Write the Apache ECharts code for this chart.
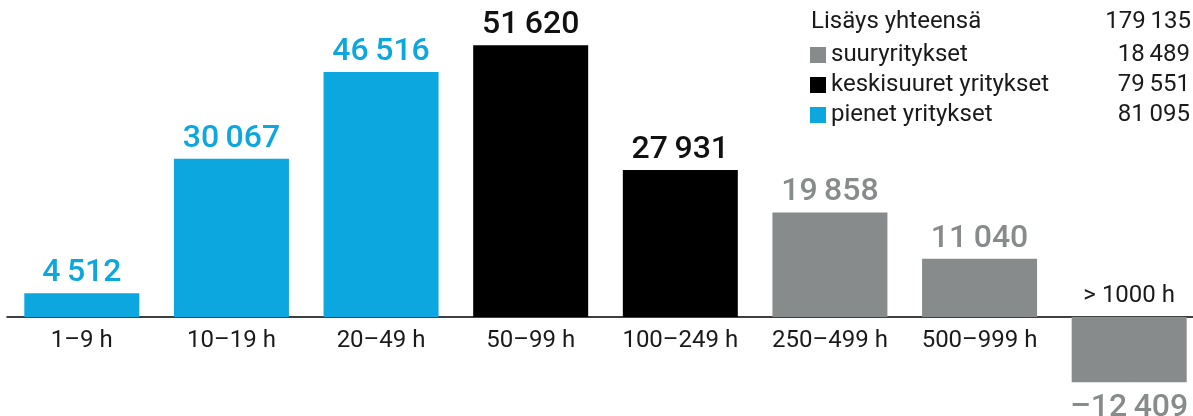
<!DOCTYPE html>
<html>
<head>
<meta charset="utf-8">
<script src="https://cdn.jsdelivr.net/npm/echarts@6/dist/echarts.min.js"></script>
<style>
  html, body { margin: 0; padding: 0; background: #fff; }
  #chart { width: 1193px; height: 416px; }
</style>
</head>
<body>
<div id="chart"></div>
<script>
// luokat ja arvot
const categories = ['1–9 h', '10–19 h', '20–49 h', '50–99 h', '100–249 h', '250–499 h', '500–999 h', '> 1000 h'];
const pienet = [4512, 30067, 46516, null, null, null, null, null];
const keskisuuret = [null, null, null, 51620, 27931, null, null, null];
const suuret = [null, null, null, null, null, 19858, 11040, -12409];

const totalLabel = 'Lisäys yhteensä';
const totalValue = 179135;
const legendNames = ['suuryritykset', 'keskisuuret yritykset', 'pienet yritykset'];
const legendValues = [18489, 79551, 81095];

const BLUE = '#0ba7de';
const BLACK = '#000000';
const GRAY = '#888b8b';
const FONT = 'Roboto';
const TEXT = '#1a1a1a';

const fmt = (v) => {
  const s = Math.abs(v).toString().replace(/\B(?=(\d{3})+(?!\d))/g, '\u2009');
  return (v < 0 ? '–' : '') + s;
};

const myChart = echarts.init(document.getElementById('chart'));

const barLabel = (color) => ({
  show: true,
  position: 'top',
  distance: 4,
  fontFamily: FONT,
  fontSize: 32,
  fontWeight: 500,
  color: color,
  formatter: (p) => fmt(p.value)
});

// negatiivisen pylvään arvo pylvään alle
const makeData = (arr) => arr.map(v => {
  if (v === null) return '-';
  if (v < 0) {
    return {value: v, label: {position: 'bottom', distance: 10}};
  }
  return v;
});

const option = {
  animation: false,
  title: {
    left: 806,
    top: 5,
    text: '{a|' + totalLabel + '}{b|' + fmt(totalValue) + '}',
    textStyle: {
      rich: {
        a: {fontFamily: FONT, fontSize: 24, fontWeight: 'normal', color: TEXT, width: 260},
        b: {fontFamily: FONT, fontSize: 24, fontWeight: 'normal', color: TEXT, width: 120, align: 'right'}
      }
    }
  },
  legend: {
    left: 810,
    top: 43,
    padding: 0,
    orient: 'vertical',
    icon: 'rect',
    itemWidth: 16,
    itemHeight: 16,
    itemGap: 6,
    selectedMode: false,
    data: legendNames,
    formatter: (name) => {
      const i = legendNames.indexOf(name);
      return '{n|' + name + '}{v|' + fmt(legendValues[i]) + '}';
    },
    textStyle: {
      rich: {
        n: {fontFamily: FONT, fontSize: 24, color: TEXT, width: 240, height: 24},
        v: {fontFamily: FONT, fontSize: 24, color: TEXT, width: 119, align: 'right', height: 24}
      }
    }
  },
  grid: {
    left: 7,
    right: -11,
    top: 1,
    bottom: 99,
    outerBoundsMode: 'none',
    containLabel: false
  },
  xAxis: [
    {
      type: 'category',
      data: categories,
      position: 'bottom',
      axisLine: {onZero: false, lineStyle: {color: '#000', width: 1.5}},
      axisTick: {show: false},
      axisLabel: {
        margin: 12,
        fontFamily: FONT,
        fontSize: 24,
        color: TEXT,
        interval: 0,
        formatter: (v, i) => (i === categories.length - 1 ? '' : v)
      }
    },
    {
      type: 'category',
      data: categories,
      position: 'bottom',
      offset: 0,
      axisLine: {show: false, onZero: false},
      axisTick: {show: false},
      axisLabel: {
        inside: true,
        margin: 9,
        fontFamily: FONT,
        fontSize: 24,
        color: TEXT,
        interval: 0,
        formatter: (v, i) => (i === categories.length - 1 ? v : '')
      }
    }
  ],
  yAxis: {
    type: 'value',
    min: 0,
    max: 60000,
    show: false,
    splitLine: {show: false}
  },
  series: [
    {
      name: 'suuryritykset',
      type: 'bar',
      stack: 'all',
      barWidth: 115,
      clip: false,
      itemStyle: {color: GRAY},
      label: barLabel(GRAY),
      data: makeData(suuret)
    },
    {
      name: 'keskisuuret yritykset',
      type: 'bar',
      stack: 'all',
      barWidth: 115,
      clip: false,
      itemStyle: {color: BLACK},
      label: barLabel('#111'),
      data: makeData(keskisuuret)
    },
    {
      name: 'pienet yritykset',
      type: 'bar',
      stack: 'all',
      barWidth: 115,
      clip: false,
      itemStyle: {color: BLUE},
      label: barLabel(BLUE),
      data: makeData(pienet)
    }
  ]
};

option && myChart.setOption(option);
</script>
</body>
</html>
